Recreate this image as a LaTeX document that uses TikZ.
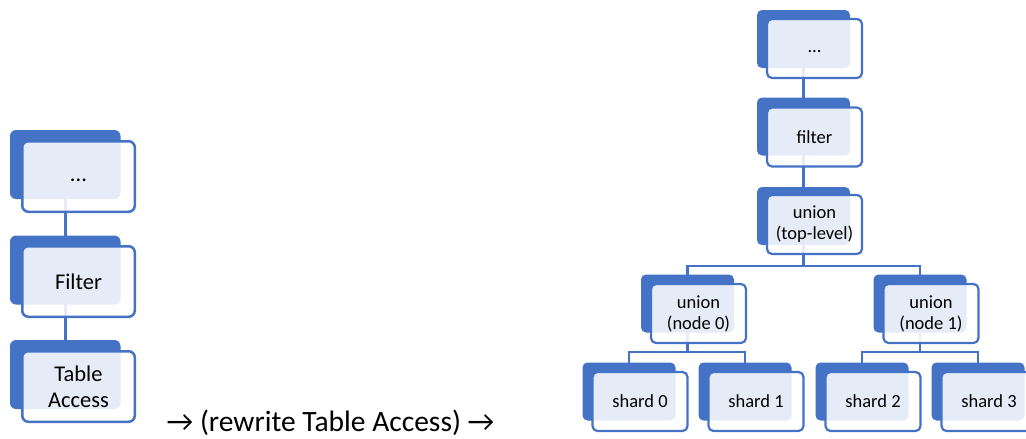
\documentclass[tikz,border=0pt]{standalone}
\usepackage{fontspec}
\setmainfont{Carlito}
\usetikzlibrary{backgrounds}
\definecolor{accent}{HTML}{4472C4}

% one hierarchy element: a filled back card and a translucent front card carrying the text
\newcommand{\cardpair}[6]{%
  \node[#2] (#1) at (#4) {};
  \node[#3] (#1-t) at (#5) {#6};}

\begin{document}
\begin{tikzpicture}[x=1pt,y=-1pt,
  backL/.style={rectangle, rounded corners=6pt, fill=accent, inner sep=0pt,
    minimum width=110.5pt, minimum height=69pt},
  frontL/.style={rectangle, rounded corners=6pt, draw=accent, line width=2.5pt,
    fill=white, fill opacity=0.87, text opacity=1, inner sep=0pt, align=center,
    minimum width=112.5pt, minimum height=70.5pt,
    font=\fontsize{22.5}{26}\selectfont},
  backR/.style={rectangle, rounded corners=5pt, fill=accent, inner sep=0pt,
    minimum width=93pt, minimum height=58pt},
  frontR/.style={rectangle, rounded corners=5pt, draw=accent, line width=2.2pt,
    fill=white, fill opacity=0.87, text opacity=1, inner sep=0pt, align=center,
    minimum width=95pt, minimum height=59pt,
    font=\fontsize{18.5}{21}\selectfont},
  linkL/.style={draw=accent, line width=2.9pt},
  linkR/.style={draw=accent, line width=2.5pt},
]
\useasboundingbox (0,0) rectangle (1026,439);
\clip (0,0) rectangle (1026,439);

% ---- original plan ----
\cardpair{l1}{backL}{frontL}{65.25,164.5}{78.5,176.5}{\strut...}
\cardpair{l2}{backL}{frontL}{65.25,270}{78.5,281.5}{Filter}
\cardpair{l3}{backL}{frontL}{65.25,374.5}{78.5,386.5}{Table\\Access}

% ---- rewritten plan ----
\cardpair{r1}{backR}{frontR}{803.5,39}{814.5,48.5}{\strut...}
\cardpair{r2}{backR}{frontR}{803.5,126.5}{814.5,137}{filter}
\cardpair{r3}{backR}{frontR}{803.5,216}{814.5,224.5}{union\\(top-level)}
\cardpair{u0}{backR}{frontR}{687.5,303.5}{698.5,313.5}{union\\(node 0)}
\cardpair{u1}{backR}{frontR}{920,303.5}{931,313.5}{union\\(node 1)}
\cardpair{s0}{backR}{frontR}{629,391.5}{640,401.5}{shard 0}
\cardpair{s1}{backR}{frontR}{745,391.5}{756,401.5}{shard 1}
\cardpair{s2}{backR}{frontR}{862,391.5}{873,401.5}{shard 2}
\cardpair{s3}{backR}{frontR}{978,391.5}{989,401.5}{shard 3}

\coordinate (busT) at (803.5,266);
\coordinate (bus0) at (687.5,352);
\coordinate (bus1) at (920,352);

\begin{scope}[on background layer]
  \draw[linkL] (l1.center) -- (l2.center) -- (l3.center);
  \draw[linkR] (r1.center) -- (r2.center) -- (r3.center) -- (busT);
  \draw[linkR] (u0.center) |- (busT) -| (u1.center);
  \draw[linkR] (u0.center) -- (bus0);
  \draw[linkR] (s0.center) |- (bus0) -| (s1.center);
  \draw[linkR] (u1.center) -- (bus1);
  \draw[linkR] (s2.center) |- (bus1) -| (s3.center);
\end{scope}

% ---- caption ----
\node[font=\fontsize{29.5}{31}\selectfont, anchor=base, inner sep=0pt] (cap)
  at (330.5,431.5) {→ (rewrite Table Access) →};
\end{tikzpicture}
\end{document}
